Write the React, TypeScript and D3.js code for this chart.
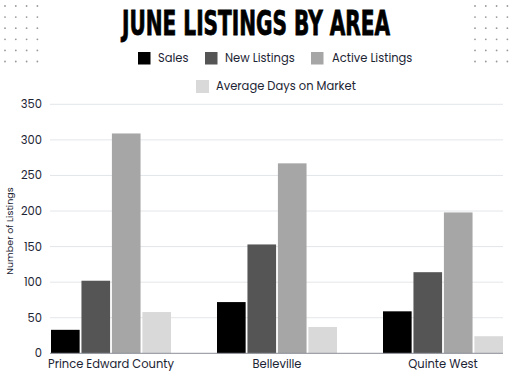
import * as d3 from "d3";
import React, { useEffect, useRef, useState } from "react";

const areas = ["Prince Edward County", "Belleville", "Quinte West"];
const seriesNames = ["Sales", "New Listings", "Active Listings", "Average Days on Market"];
const sales = [33, 72, 59];
const newListings = [102, 153, 114];
const activeListings = [309, 267, 198];
const avgDays = [58, 37, 24];
const yTicks = [0, 50, 100, 150, 200, 250, 300, 350];
const colors = ["#000000", "#555555", "#a6a6a6", "#d9d9d9"];

const W = 512;
const H = 384;
const font = "Poppins, 'Open Sans', Inter, sans-serif";

export default function App() {
  const titleRef = useRef<SVGTextElement>(null);
  const [titleScale, setTitleScale] = useState(0.7);

  useEffect(() => {
    if (titleRef.current) {
      const w = titleRef.current.getComputedTextLength();
      if (w > 0) setTitleScale(268 / w);
    }
  }, []);

  const series = [sales, newListings, activeListings, avgDays];

  const y = d3.scaleLinear().domain([0, 350]).range([353.3, 104.3]);
  const x = d3.scaleBand().domain(areas).range([28, 526]).padding(0);
  const groupW = 120;
  const inner = d3
    .scaleBand()
    .domain(seriesNames)
    .range([0, groupW])
    .paddingInner(0.06);

  // dot grids in the corners
  const dotCols = d3.range(4);
  const dotRows = d3.range(6);
  const dots: { x: number; y: number }[] = [];
  [5, 475].forEach((x0) =>
    dotCols.forEach((c) =>
      dotRows.forEach((r) => dots.push({ x: x0 + c * 10.8, y: 6 + r * 11.1 }))
    )
  );

  const legendRow1 = [
    { name: seriesNames[0], sx: 138, tx: 158 },
    { name: seriesNames[1], sx: 205, tx: 225 },
    { name: seriesNames[2], sx: 311, tx: 332 },
  ];

  const labelStyle = { fontFamily: font, fontSize: 11.5, fill: "#1c2434" };

  return (
    <svg
      width={W}
      height={H}
      style={{ position: "absolute", left: 0, top: 0, background: "#fff" }}
    >
      {dots.map((d, i) => (
        <circle key={i} cx={d.x} cy={d.y} r={0.9} fill="#999" />
      ))}

      <g transform={`translate(256,35) scale(${titleScale},1)`}>
        <text
          ref={titleRef}
          x={0}
          y={0}
          textAnchor="middle"
          style={{
            fontFamily: "'DejaVu Sans Condensed', 'Liberation Sans Narrow', sans-serif",
            fontWeight: 900,
            fontSize: 33,
            fill: "#000",
            stroke: "#000",
            strokeWidth: 0.8,
          }}
        >
          JUNE LISTINGS BY AREA
        </text>
      </g>

      {legendRow1.map((l, i) => (
        <g key={l.name}>
          <rect x={l.sx} y={52} width={12.5} height={12.5} fill={colors[i]} />
          <text x={l.tx} y={61.5} style={labelStyle}>
            {l.name}
          </text>
        </g>
      ))}
      <rect x={196} y={80} width={13} height={13} fill={colors[3]} />
      <text x={216} y={90} style={labelStyle}>
        {seriesNames[3]}
      </text>

      {yTicks.map((t) => (
        <g key={t}>
          {t > 0 && (
            <line x1={50} x2={503} y1={y(t)} y2={y(t)} stroke="#e3e6e9" strokeWidth={1} />
          )}
          <text x={42} y={y(t)} dy="0.35em" textAnchor="end" style={labelStyle}>
            {t}
          </text>
        </g>
      ))}

      <text
        transform={`translate(13,231) rotate(-90)`}
        textAnchor="middle"
        style={{ fontFamily: font, fontSize: 9.5, fill: "#1c2434" }}
      >
        Number of Listings
      </text>

      {areas.map((a, ai) => {
        const cx = (x(a) as number) + x.bandwidth() / 2;
        const gx = cx - groupW / 2;
        return (
          <g key={a}>
            {seriesNames.map((s, si) => (
              <rect
                key={s}
                x={gx + (inner(s) as number)}
                y={y(series[si][ai])}
                width={inner.bandwidth()}
                height={y(0) - y(series[si][ai])}
                fill={colors[si]}
              />
            ))}
            <text x={cx} y={368} textAnchor="middle" style={labelStyle}>
              {a}
            </text>
          </g>
        );
      })}

      <line x1={50} x2={503} y1={y(0)} y2={y(0)} stroke="#8a8f96" strokeWidth={1} />
    </svg>
  );
}
